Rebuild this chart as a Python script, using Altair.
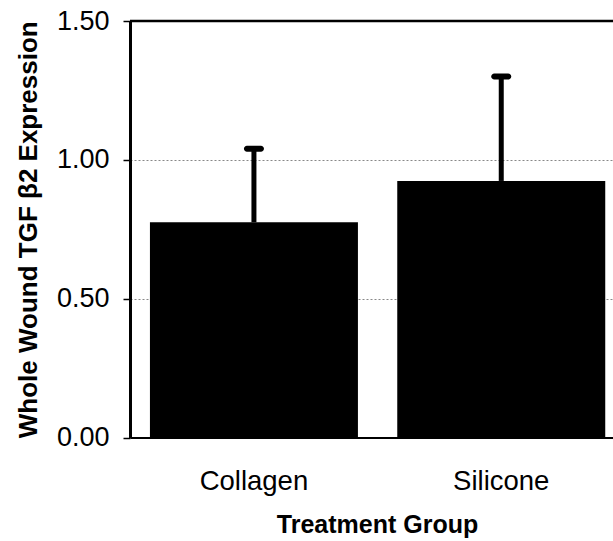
import altair as alt
import pandas as pd

# Treatment groups and whole-wound TGF beta2 expression (mean and mean + SD)
groups = ["Collagen", "Silicone"]
means = [0.775, 0.924]
upper = [1.04, 1.30]
y_ticks = [0.0, 0.5, 1.0, 1.5]

df = pd.DataFrame({"group": groups, "mean": means, "upper": upper})
top_df = pd.DataFrame({"top": [y_ticks[-1]]})

FONT = "Liberation Sans"

x_enc = alt.X(
    "group:N",
    sort=groups,
    title="Treatment Group",
    scale=alt.Scale(paddingInner=0.159, paddingOuter=0.056, align=0.72),
    axis=alt.Axis(
        labelAngle=0,
        labelFontSize=27.5,
        labelFont=FONT,
        labelColor="black",
        labelPadding=30,
        ticks=False,
        tickSize=0,
        domainColor="black",
        domainWidth=2,
        titleFont=FONT,
        titleFontSize=25,
        titleFontWeight="bold",
        titleColor="black",
        titlePadding=17,
        titleX=247,
    ),
)

y_scale = alt.Scale(domain=[0, 1.5], nice=False, zero=True)

bars = alt.Chart(df).mark_bar(color="black").encode(
    x=x_enc,
    y=alt.Y(
        "mean:Q",
        scale=y_scale,
        title="Whole Wound TGF β2 Expression",
        axis=alt.Axis(
            values=y_ticks,
            format=".2f",
            labelFontSize=27,
            labelFont=FONT,
            labelColor="black",
            labelPadding=14,
            tickSize=7,
            tickColor="black",
            tickWidth=1.5,
            domainColor="black",
            domainWidth=3,
            grid=True,
            gridColor="#888888",
            gridWidth=1,
            gridDash=[2, 2],
            titleFont=FONT,
            titleFontSize=26,
            titleFontWeight="bold",
            titleColor="black",
            titlePadding=15,
        ),
    ),
)

stems = alt.Chart(df).mark_rule(color="black", strokeWidth=5).encode(
    x=alt.X("group:N", sort=groups),
    y=alt.Y("mean:Q", scale=y_scale),
    y2="upper:Q",
)

caps = alt.Chart(df).mark_tick(
    color="black", thickness=6, size=20, cornerRadius=3, opacity=1
).encode(
    x=alt.X("group:N", sort=groups),
    y=alt.Y("upper:Q", scale=y_scale),
)

top_line = alt.Chart(top_df).mark_rule(color="black", strokeWidth=2.5).encode(
    y=alt.Y("top:Q", scale=y_scale)
)

chart = (
    alt.layer(bars, stems, caps, top_line)
    .properties(
        width=483,
        height=416.5,
        autosize=alt.AutoSizeParams(type="none"),
        padding={"left": 130, "top": 21, "right": 0, "bottom": 103},
        background="white",
    )
    .configure_view(stroke=None)
)

chart.save("out.html", embed_options={"renderer": "svg", "actions": False})
